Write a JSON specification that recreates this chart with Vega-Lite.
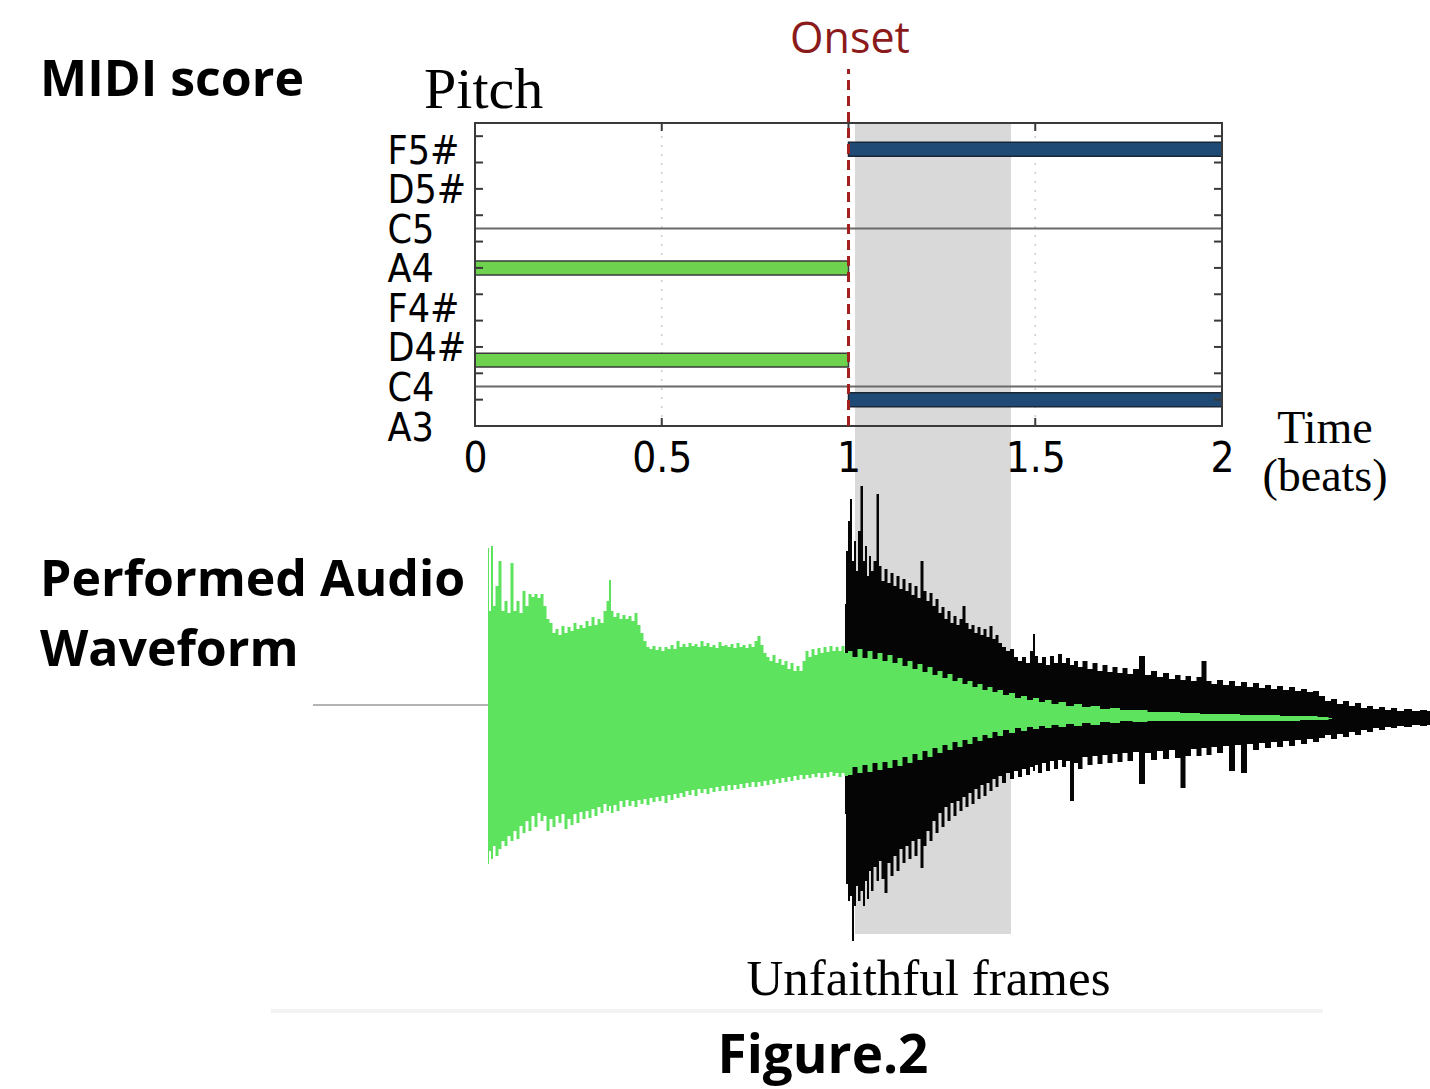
{
"$schema": "https://vega.github.io/schema/vega-lite/v6.json",
"width": 747, "height": 303, "padding": 0,
"autosize": {"type": "pad"},
"background": "white",
"config": {"view": {"stroke": null}},
"encoding": {
  "x": {"field": "t", "type": "quantitative", "scale": {"domain": [0, 2], "nice": false, "zero": false},
    "axis": {"values": [0, 0.5, 1, 1.5, 2], "labelExpr": "datum.value + ''", "title": null, "grid": false, "ticks": false, "domain": false, "zindex": 2,
      "labelFont": "DejaVu Sans Condensed", "labelFontSize": 42, "labelColor": "#000", "labelPadding": 12, "labelFlush": false, "labelOverlap": false}}
},
"layer": [
{
  "encoding": {"y": {"field": "p", "type": "quantitative", "scale": {"domain": [57, 80], "nice": false, "zero": false},
    "axis": {"values": [57, 60, 63, 66, 69, 72, 75, 78], "zindex": 2,
      "labelExpr": "datum.value == 57 ? 'A3' : datum.value == 60 ? 'C4' : datum.value == 63 ? 'D4#' : datum.value == 66 ? 'F4#' : datum.value == 69 ? 'A4' : datum.value == 72 ? 'C5' : datum.value == 75 ? 'D5#' : 'F5#'",
      "title": null, "grid": false, "ticks": false, "domain": false, "labelAlign": "left", "labelPadding": 88,
      "labelFont": "DejaVu Sans Condensed", "labelFontSize": 39, "labelColor": "#000", "labelOverlap": false, "labelFlush": false, "labelBaseline": "middle", "labelOffset": 2}}},
  "layer": [
    {"data": {"values": [{"t": -1.27175, "t2": 2.55689, "p": 89.261, "p2": 6.598}]},
     "mark": {"type": "rect", "fill": "white"}, "encoding": {"x2": {"field": "t2"}, "y2": {"field": "p2"}}},
    {"data": {"values": [{"t": 1.0174, "t2": 1.4351, "p": 80, "p2": 18.439}]},
     "mark": {"type": "rect", "fill": "#d9d9d9"}, "encoding": {"x2": {"field": "t2"}, "y2": {"field": "p2"}}},
    {"data": {"values": [{"t": 0.5, "p": 57, "p2": 80}, {"t": 1.5, "p": 57, "p2": 80}]},
     "mark": {"type": "rule", "color": "#cfcfcf", "strokeWidth": 1.5, "strokeDash": [2, 7]}, "encoding": {"y2": {"field": "p2"}}},
    {"data": {"values": [{"t": 0, "t2": 2, "p": 60}, {"t": 0, "t2": 2, "p": 72}]},
     "mark": {"type": "rule", "color": "#6a6a6a", "strokeWidth": 2}, "encoding": {"x2": {"field": "t2"}}},
    {"data": {"values": [{"note": "A4", "t": 0, "t2": 1, "p": 68.47, "p2": 69.53}, {"note": "D4", "t": 0, "t2": 1, "p": 61.47, "p2": 62.53}]},
     "mark": {"type": "rect", "fill": "#6fd24f", "stroke": "#3a3a3a", "strokeWidth": 1.5}, "encoding": {"x2": {"field": "t2"}, "y2": {"field": "p2"}}},
    {"data": {"values": [{"note": "F#5", "t": 1, "t2": 2, "p": 77.47, "p2": 78.53}, {"note": "B3", "t": 1, "t2": 2, "p": 58.47, "p2": 59.53}]},
     "mark": {"type": "rect", "fill": "#1f4a75", "stroke": "#1a2636", "strokeWidth": 1.5}, "encoding": {"x2": {"field": "t2"}, "y2": {"field": "p2"}}},
    {"data": {"values": [{"t": 0, "t2": 2, "p": 57, "p2": 80}]},
     "mark": {"type": "rect", "fill": null, "stroke": "#3a3a3a", "strokeWidth": 2}, "encoding": {"x2": {"field": "t2"}, "y2": {"field": "p2"}}},
    {"data": {"values": [{"t": 0, "p": 59}, {"t": 0, "p": 61}, {"t": 0, "p": 63}, {"t": 0, "p": 65}, {"t": 0, "p": 67}, {"t": 0, "p": 69}, {"t": 0, "p": 71}, {"t": 0, "p": 73}, {"t": 0, "p": 75}, {"t": 0, "p": 77}, {"t": 0, "p": 79}]},
     "mark": {"type": "tick", "orient": "horizontal", "size": 8, "thickness": 2, "xOffset": 4, "color": "#3a3a3a", "opacity": 1}},
    {"data": {"values": [{"t": 2, "p": 59}, {"t": 2, "p": 61}, {"t": 2, "p": 63}, {"t": 2, "p": 65}, {"t": 2, "p": 67}, {"t": 2, "p": 69}, {"t": 2, "p": 71}, {"t": 2, "p": 73}, {"t": 2, "p": 75}, {"t": 2, "p": 77}, {"t": 2, "p": 79}]},
     "mark": {"type": "tick", "orient": "horizontal", "size": 8, "thickness": 2, "xOffset": -4, "color": "#3a3a3a", "opacity": 1}},
    {"data": {"values": [{"t": 0.5, "p": 57}, {"t": 1, "p": 57}, {"t": 1.5, "p": 57}]},
     "mark": {"type": "tick", "orient": "vertical", "size": 8, "thickness": 2, "yOffset": -4, "color": "#3a3a3a", "opacity": 1}},
    {"data": {"values": [{"t": 0.5, "p": 80}, {"t": 1, "p": 80}, {"t": 1.5, "p": 80}]},
     "mark": {"type": "tick", "orient": "vertical", "size": 8, "thickness": 2, "yOffset": 4, "color": "#3a3a3a", "opacity": 1}},
    {"data": {"values": [{"t": 1, "p": 57, "p2": 84.1}]},
     "mark": {"type": "rule", "color": "#a41f1f", "strokeWidth": 3, "strokeDash": [10, 6]}, "encoding": {"y2": {"field": "p2"}}},
    {"data": {"values": [{"t": -0.5462, "t2": 2.2704, "p": 12.594}]},
     "mark": {"type": "rule", "color": "#f3f3f3", "strokeWidth": 4}, "encoding": {"x2": {"field": "t2"}}},
    {"data": {"values": [{"label": "MIDI score", "t": -1.1647, "p": 82.049}, {"label": "Performed Audio", "t": -1.1647, "p": 44.096}, {"label": "Waveform", "t": -1.1647, "p": 38.782}]},
     "mark": {"type": "text", "font": "Open Sans", "fontWeight": "bold", "fontSize": 50, "align": "left", "baseline": "alphabetic", "color": "#000"},
     "encoding": {"text": {"field": "label"}}},
    {"data": {"values": [{"label": "Figure.2", "t": 0.9317, "p": 7.888}]},
     "mark": {"type": "text", "font": "Open Sans", "fontWeight": "bold", "fontSize": 53, "align": "center", "baseline": "alphabetic", "color": "#000"},
     "encoding": {"text": {"field": "label"}}},
    {"data": {"values": [{"label": "Onset", "t": 1.004, "p": 85.313}]},
     "mark": {"type": "text", "font": "Open Sans", "fontSize": 43, "align": "center", "baseline": "alphabetic", "color": "#8b1a1a"},
     "encoding": {"text": {"field": "label"}}},
    {"data": {"values": [{"label": "Pitch", "t": -0.1365, "p": 81.138}]},
     "mark": {"type": "text", "font": "Liberation Serif", "fontSize": 58, "align": "left", "baseline": "alphabetic", "color": "#000"},
     "encoding": {"text": {"field": "label"}}},
    {"data": {"values": [{"label": "Time", "t": 2.2758, "p": 55.71}, {"label": "(beats)", "t": 2.2758, "p": 52.066}]},
     "mark": {"type": "text", "font": "Liberation Serif", "fontSize": 46, "align": "center", "baseline": "alphabetic", "color": "#000"},
     "encoding": {"text": {"field": "label"}}},
    {"data": {"values": [{"label": "Unfaithful frames", "t": 1.2142, "p": 13.809}]},
     "mark": {"type": "text", "font": "Liberation Serif", "fontSize": 51, "align": "center", "baseline": "alphabetic", "color": "#000"},
     "encoding": {"text": {"field": "label"}}}
  ]
},
{
  "encoding": {"y": {"field": "hi", "type": "quantitative", "scale": {"domain": [1.148, 2.36], "nice": false, "zero": false}, "axis": null}},
  "layer": [
    {"data": {"values": [{"t": -0.4337, "t2": 0.0348, "hi": 0.032}]},
     "mark": {"type": "rule", "color": "#b3b3b3", "strokeWidth": 2}, "encoding": {"x2": {"field": "t2"}}},
    {"data": {"values": [
{"t":0.9906,"hi":0.436,"lo":-0.404},{"t":0.9960,"hi":0.648,"lo":-0.684},{"t":1.0013,"hi":0.768,"lo":-0.752},{"t":1.0067,"hi":0.856,"lo":-0.732},{"t":1.0120,"hi":0.608,"lo":-0.912},{"t":1.0174,"hi":0.688,"lo":-0.772},{"t":1.0228,"hi":0.568,"lo":-0.692},{"t":1.0281,"hi":0.728,"lo":-0.752},{"t":1.0361,"hi":0.908,"lo":-0.712},{"t":1.0415,"hi":0.608,"lo":-0.772},{"t":1.0469,"hi":0.668,"lo":-0.672},{"t":1.0522,"hi":0.548,"lo":-0.744},{"t":1.0576,"hi":0.628,"lo":-0.632},{"t":1.0629,"hi":0.568,"lo":-0.712},{"t":1.0710,"hi":0.608,"lo":-0.616},{"t":1.0790,"hi":0.876,"lo":-0.672},{"t":1.0843,"hi":0.588,"lo":-0.592},{"t":1.0924,"hi":0.528,"lo":-0.664},{"t":1.1004,"hi":0.576,"lo":-0.720},{"t":1.1084,"hi":0.520,"lo":-0.600},{"t":1.1165,"hi":0.560,"lo":-0.652},{"t":1.1245,"hi":0.508,"lo":-0.572},{"t":1.1325,"hi":0.548,"lo":-0.632},{"t":1.1406,"hi":0.496,"lo":-0.544},{"t":1.1486,"hi":0.536,"lo":-0.600},{"t":1.1566,"hi":0.488,"lo":-0.532},{"t":1.1647,"hi":0.520,"lo":-0.584},{"t":1.1727,"hi":0.472,"lo":-0.512},{"t":1.1807,"hi":0.508,"lo":-0.572},{"t":1.1888,"hi":0.460,"lo":-0.504},{"t":1.1968,"hi":0.608,"lo":-0.620},{"t":1.2048,"hi":0.488,"lo":-0.532},{"t":1.2129,"hi":0.448,"lo":-0.472},{"t":1.2209,"hi":0.480,"lo":-0.512},{"t":1.2289,"hi":0.428,"lo":-0.432},{"t":1.2370,"hi":0.456,"lo":-0.480},{"t":1.2450,"hi":0.400,"lo":-0.400},{"t":1.2530,"hi":0.424,"lo":-0.456},{"t":1.2610,"hi":0.376,"lo":-0.376},{"t":1.2691,"hi":0.408,"lo":-0.432},{"t":1.2771,"hi":0.360,"lo":-0.360},{"t":1.2851,"hi":0.388,"lo":-0.412},{"t":1.2932,"hi":0.352,"lo":-0.352},{"t":1.3012,"hi":0.376,"lo":-0.392},{"t":1.3092,"hi":0.428,"lo":-0.336},{"t":1.3173,"hi":0.360,"lo":-0.376},{"t":1.3253,"hi":0.336,"lo":-0.320},{"t":1.3333,"hi":0.352,"lo":-0.364},{"t":1.3414,"hi":0.320,"lo":-0.304},{"t":1.3494,"hi":0.344,"lo":-0.344},{"t":1.3574,"hi":0.312,"lo":-0.288},{"t":1.3655,"hi":0.336,"lo":-0.332},{"t":1.3735,"hi":0.304,"lo":-0.280},{"t":1.3815,"hi":0.348,"lo":-0.312},{"t":1.3896,"hi":0.296,"lo":-0.264},{"t":1.3976,"hi":0.312,"lo":-0.296},{"t":1.4056,"hi":0.280,"lo":-0.252},{"t":1.4163,"hi":0.264,"lo":-0.280},{"t":1.4270,"hi":0.248,"lo":-0.240},{"t":1.4378,"hi":0.256,"lo":-0.264},{"t":1.4485,"hi":0.224,"lo":-0.232},{"t":1.4592,"hi":0.208,"lo":-0.256},{"t":1.4699,"hi":0.224,"lo":-0.224},{"t":1.4806,"hi":0.200,"lo":-0.248},{"t":1.4913,"hi":0.248,"lo":-0.216},{"t":1.4967,"hi":0.316,"lo":-0.232},{"t":1.5020,"hi":0.228,"lo":-0.208},{"t":1.5127,"hi":0.200,"lo":-0.240},{"t":1.5234,"hi":0.224,"lo":-0.200},{"t":1.5341,"hi":0.192,"lo":-0.232},{"t":1.5448,"hi":0.228,"lo":-0.192},{"t":1.5556,"hi":0.200,"lo":-0.224},{"t":1.5663,"hi":0.236,"lo":-0.188},{"t":1.5770,"hi":0.200,"lo":-0.216},{"t":1.5877,"hi":0.220,"lo":-0.192},{"t":1.5984,"hi":0.192,"lo":-0.352},{"t":1.6091,"hi":0.208,"lo":-0.200},{"t":1.6198,"hi":0.184,"lo":-0.224},{"t":1.6332,"hi":0.208,"lo":-0.176},{"t":1.6466,"hi":0.176,"lo":-0.208},{"t":1.6600,"hi":0.200,"lo":-0.172},{"t":1.6734,"hi":0.168,"lo":-0.204},{"t":1.6867,"hi":0.192,"lo":-0.168},{"t":1.7001,"hi":0.164,"lo":-0.200},{"t":1.7135,"hi":0.184,"lo":-0.164},{"t":1.7269,"hi":0.160,"lo":-0.196},{"t":1.7403,"hi":0.180,"lo":-0.160},{"t":1.7537,"hi":0.156,"lo":-0.192},{"t":1.7698,"hi":0.176,"lo":-0.156},{"t":1.7858,"hi":0.228,"lo":-0.284},{"t":1.8019,"hi":0.152,"lo":-0.160},{"t":1.8179,"hi":0.168,"lo":-0.188},{"t":1.8340,"hi":0.144,"lo":-0.152},{"t":1.8501,"hi":0.160,"lo":-0.184},{"t":1.8661,"hi":0.136,"lo":-0.148},{"t":1.8822,"hi":0.152,"lo":-0.180},{"t":1.8956,"hi":0.132,"lo":-0.300},{"t":1.9090,"hi":0.148,"lo":-0.172},{"t":1.9250,"hi":0.128,"lo":-0.144},{"t":1.9384,"hi":0.144,"lo":-0.172},{"t":1.9518,"hi":0.208,"lo":-0.140},{"t":1.9652,"hi":0.128,"lo":-0.168},{"t":1.9786,"hi":0.116,"lo":-0.136},{"t":1.9946,"hi":0.132,"lo":-0.160},{"t":2.0107,"hi":0.112,"lo":-0.132},{"t":2.0268,"hi":0.128,"lo":-0.232},{"t":2.0428,"hi":0.108,"lo":-0.128},{"t":2.0589,"hi":0.124,"lo":-0.240},{"t":2.0750,"hi":0.104,"lo":-0.124},{"t":2.0910,"hi":0.120,"lo":-0.148},{"t":2.1071,"hi":0.100,"lo":-0.120},{"t":2.1231,"hi":0.112,"lo":-0.140},{"t":2.1392,"hi":0.096,"lo":-0.116},{"t":2.1553,"hi":0.108,"lo":-0.136},{"t":2.1713,"hi":0.092,"lo":-0.112},{"t":2.1874,"hi":0.104,"lo":-0.132},{"t":2.2035,"hi":0.088,"lo":-0.108},{"t":2.2195,"hi":0.096,"lo":-0.124},{"t":2.2356,"hi":0.084,"lo":-0.104},{"t":2.2517,"hi":0.088,"lo":-0.116},{"t":2.2677,"hi":0.068,"lo":-0.100},{"t":2.2838,"hi":0.048,"lo":-0.088},{"t":2.2999,"hi":0.056,"lo":-0.104},{"t":2.3159,"hi":0.036,"lo":-0.084},{"t":2.3320,"hi":0.048,"lo":-0.096},{"t":2.3480,"hi":0.028,"lo":-0.076},{"t":2.3641,"hi":0.040,"lo":-0.088},{"t":2.3802,"hi":0.020,"lo":-0.068},{"t":2.3962,"hi":0.028,"lo":-0.076},{"t":2.4123,"hi":0.016,"lo":-0.060},{"t":2.4284,"hi":0.024,"lo":-0.068},{"t":2.4444,"hi":0.012,"lo":-0.056},{"t":2.4605,"hi":0.020,"lo":-0.060},{"t":2.4766,"hi":0.008,"lo":-0.052},{"t":2.4980,"hi":0.016,"lo":-0.056},{"t":2.5194,"hi":0.008,"lo":-0.048},{"t":2.5408,"hi":0.012,"lo":-0.052},{"t":2.5569,"hi":0.008,"lo":-0.048}
    ]},
     "mark": {"type": "area", "color": "#050505", "opacity": 1, "interpolate": "step"}, "encoding": {"y2": {"field": "lo"}}},
    {"data": {"values": [
{"t":0.0348,"hi":0.660,"lo":-0.604},{"t":0.0402,"hi":0.408,"lo":-0.552},{"t":0.0455,"hi":0.668,"lo":-0.584},{"t":0.0509,"hi":0.428,"lo":-0.532},{"t":0.0589,"hi":0.508,"lo":-0.572},{"t":0.0669,"hi":0.608,"lo":-0.544},{"t":0.0750,"hi":0.408,"lo":-0.512},{"t":0.0830,"hi":0.448,"lo":-0.532},{"t":0.0910,"hi":0.400,"lo":-0.492},{"t":0.0991,"hi":0.600,"lo":-0.512},{"t":0.1071,"hi":0.408,"lo":-0.472},{"t":0.1151,"hi":0.448,"lo":-0.504},{"t":0.1232,"hi":0.400,"lo":-0.452},{"t":0.1312,"hi":0.488,"lo":-0.480},{"t":0.1392,"hi":0.428,"lo":-0.432},{"t":0.1473,"hi":0.476,"lo":-0.472},{"t":0.1553,"hi":0.464,"lo":-0.412},{"t":0.1633,"hi":0.476,"lo":-0.456},{"t":0.1714,"hi":0.460,"lo":-0.400},{"t":0.1794,"hi":0.476,"lo":-0.432},{"t":0.1874,"hi":0.428,"lo":-0.412},{"t":0.1955,"hi":0.376,"lo":-0.472},{"t":0.2035,"hi":0.360,"lo":-0.424},{"t":0.2115,"hi":0.320,"lo":-0.456},{"t":0.2195,"hi":0.336,"lo":-0.412},{"t":0.2276,"hi":0.312,"lo":-0.440},{"t":0.2356,"hi":0.348,"lo":-0.404},{"t":0.2436,"hi":0.320,"lo":-0.464},{"t":0.2517,"hi":0.344,"lo":-0.424},{"t":0.2597,"hi":0.328,"lo":-0.448},{"t":0.2677,"hi":0.360,"lo":-0.404},{"t":0.2758,"hi":0.336,"lo":-0.440},{"t":0.2838,"hi":0.352,"lo":-0.396},{"t":0.2918,"hi":0.340,"lo":-0.424},{"t":0.2999,"hi":0.368,"lo":-0.392},{"t":0.3079,"hi":0.348,"lo":-0.420},{"t":0.3159,"hi":0.384,"lo":-0.384},{"t":0.3240,"hi":0.352,"lo":-0.412},{"t":0.3320,"hi":0.376,"lo":-0.376},{"t":0.3400,"hi":0.360,"lo":-0.400},{"t":0.3481,"hi":0.408,"lo":-0.364},{"t":0.3561,"hi":0.448,"lo":-0.392},{"t":0.3615,"hi":0.532,"lo":-0.372},{"t":0.3668,"hi":0.408,"lo":-0.400},{"t":0.3748,"hi":0.384,"lo":-0.368},{"t":0.3829,"hi":0.400,"lo":-0.392},{"t":0.3909,"hi":0.376,"lo":-0.352},{"t":0.3989,"hi":0.392,"lo":-0.376},{"t":0.4070,"hi":0.376,"lo":-0.348},{"t":0.4150,"hi":0.388,"lo":-0.372},{"t":0.4230,"hi":0.368,"lo":-0.352},{"t":0.4311,"hi":0.400,"lo":-0.376},{"t":0.4391,"hi":0.352,"lo":-0.348},{"t":0.4471,"hi":0.320,"lo":-0.364},{"t":0.4552,"hi":0.288,"lo":-0.344},{"t":0.4632,"hi":0.264,"lo":-0.368},{"t":0.4712,"hi":0.256,"lo":-0.340},{"t":0.4793,"hi":0.268,"lo":-0.356},{"t":0.4873,"hi":0.252,"lo":-0.336},{"t":0.4953,"hi":0.264,"lo":-0.352},{"t":0.5034,"hi":0.248,"lo":-0.332},{"t":0.5114,"hi":0.264,"lo":-0.360},{"t":0.5194,"hi":0.256,"lo":-0.328},{"t":0.5275,"hi":0.272,"lo":-0.348},{"t":0.5355,"hi":0.256,"lo":-0.324},{"t":0.5435,"hi":0.288,"lo":-0.340},{"t":0.5516,"hi":0.264,"lo":-0.320},{"t":0.5596,"hi":0.276,"lo":-0.336},{"t":0.5676,"hi":0.264,"lo":-0.312},{"t":0.5756,"hi":0.280,"lo":-0.328},{"t":0.5837,"hi":0.268,"lo":-0.308},{"t":0.5917,"hi":0.276,"lo":-0.332},{"t":0.5997,"hi":0.264,"lo":-0.304},{"t":0.6078,"hi":0.288,"lo":-0.320},{"t":0.6158,"hi":0.268,"lo":-0.304},{"t":0.6238,"hi":0.280,"lo":-0.324},{"t":0.6319,"hi":0.264,"lo":-0.300},{"t":0.6399,"hi":0.272,"lo":-0.316},{"t":0.6479,"hi":0.260,"lo":-0.296},{"t":0.6560,"hi":0.284,"lo":-0.312},{"t":0.6640,"hi":0.268,"lo":-0.292},{"t":0.6720,"hi":0.272,"lo":-0.312},{"t":0.6801,"hi":0.264,"lo":-0.288},{"t":0.6881,"hi":0.276,"lo":-0.308},{"t":0.6961,"hi":0.260,"lo":-0.288},{"t":0.7042,"hi":0.280,"lo":-0.304},{"t":0.7122,"hi":0.264,"lo":-0.284},{"t":0.7202,"hi":0.272,"lo":-0.300},{"t":0.7283,"hi":0.260,"lo":-0.280},{"t":0.7363,"hi":0.276,"lo":-0.296},{"t":0.7443,"hi":0.264,"lo":-0.276},{"t":0.7523,"hi":0.288,"lo":-0.296},{"t":0.7604,"hi":0.308,"lo":-0.276},{"t":0.7684,"hi":0.272,"lo":-0.292},{"t":0.7764,"hi":0.240,"lo":-0.272},{"t":0.7845,"hi":0.224,"lo":-0.288},{"t":0.7925,"hi":0.208,"lo":-0.268},{"t":0.8005,"hi":0.232,"lo":-0.284},{"t":0.8086,"hi":0.200,"lo":-0.264},{"t":0.8166,"hi":0.216,"lo":-0.280},{"t":0.8246,"hi":0.192,"lo":-0.260},{"t":0.8327,"hi":0.208,"lo":-0.276},{"t":0.8407,"hi":0.176,"lo":-0.256},{"t":0.8487,"hi":0.200,"lo":-0.272},{"t":0.8568,"hi":0.168,"lo":-0.252},{"t":0.8648,"hi":0.188,"lo":-0.268},{"t":0.8728,"hi":0.168,"lo":-0.248},{"t":0.8809,"hi":0.208,"lo":-0.264},{"t":0.8889,"hi":0.248,"lo":-0.248},{"t":0.8970,"hi":0.224,"lo":-0.260},{"t":0.9050,"hi":0.256,"lo":-0.244},{"t":0.9130,"hi":0.232,"lo":-0.256},{"t":0.9210,"hi":0.260,"lo":-0.240},{"t":0.9291,"hi":0.240,"lo":-0.260},{"t":0.9371,"hi":0.264,"lo":-0.240},{"t":0.9451,"hi":0.244,"lo":-0.256},{"t":0.9532,"hi":0.268,"lo":-0.236},{"t":0.9612,"hi":0.248,"lo":-0.252},{"t":0.9692,"hi":0.264,"lo":-0.240},{"t":0.9773,"hi":0.248,"lo":-0.256},{"t":0.9853,"hi":0.268,"lo":-0.240},{"t":0.9933,"hi":0.240,"lo":-0.252},
{"t":1.0040,"hi":0.248,"lo":-0.248},{"t":1.0174,"hi":0.224,"lo":-0.216},{"t":1.0308,"hi":0.256,"lo":-0.240},{"t":1.0442,"hi":0.220,"lo":-0.208},{"t":1.0576,"hi":0.248,"lo":-0.236},{"t":1.0710,"hi":0.216,"lo":-0.200},{"t":1.0843,"hi":0.240,"lo":-0.228},{"t":1.0977,"hi":0.208,"lo":-0.196},{"t":1.1111,"hi":0.232,"lo":-0.220},{"t":1.1245,"hi":0.200,"lo":-0.188},{"t":1.1379,"hi":0.220,"lo":-0.212},{"t":1.1513,"hi":0.188,"lo":-0.176},{"t":1.1647,"hi":0.208,"lo":-0.200},{"t":1.1781,"hi":0.176,"lo":-0.164},{"t":1.1914,"hi":0.196,"lo":-0.188},{"t":1.2048,"hi":0.164,"lo":-0.152},{"t":1.2182,"hi":0.184,"lo":-0.176},{"t":1.2316,"hi":0.152,"lo":-0.140},{"t":1.2450,"hi":0.168,"lo":-0.160},{"t":1.2584,"hi":0.140,"lo":-0.128},{"t":1.2718,"hi":0.156,"lo":-0.148},{"t":1.2851,"hi":0.128,"lo":-0.116},{"t":1.2985,"hi":0.140,"lo":-0.136},{"t":1.3119,"hi":0.116,"lo":-0.108},{"t":1.3253,"hi":0.128,"lo":-0.124},{"t":1.3387,"hi":0.104,"lo":-0.096},{"t":1.3521,"hi":0.116,"lo":-0.112},{"t":1.3655,"hi":0.092,"lo":-0.088},{"t":1.3788,"hi":0.104,"lo":-0.100},{"t":1.3922,"hi":0.084,"lo":-0.076},{"t":1.4056,"hi":0.092,"lo":-0.092},{"t":1.4217,"hi":0.072,"lo":-0.068},{"t":1.4378,"hi":0.080,"lo":-0.080},{"t":1.4538,"hi":0.060,"lo":-0.060},{"t":1.4699,"hi":0.068,"lo":-0.072},{"t":1.4859,"hi":0.052,"lo":-0.056},{"t":1.5020,"hi":0.060,"lo":-0.064},{"t":1.5181,"hi":0.044,"lo":-0.052},{"t":1.5341,"hi":0.052,"lo":-0.060},{"t":1.5529,"hi":0.036,"lo":-0.048},{"t":1.5716,"hi":0.044,"lo":-0.056},{"t":1.5930,"hi":0.028,"lo":-0.044},{"t":1.6145,"hi":0.036,"lo":-0.052},{"t":1.6359,"hi":0.024,"lo":-0.040},{"t":1.6600,"hi":0.028,"lo":-0.048},{"t":1.6867,"hi":0.016,"lo":-0.036},{"t":1.7135,"hi":0.020,"lo":-0.040},{"t":1.7403,"hi":0.012,"lo":-0.032},{"t":1.7805,"hi":0.012,"lo":-0.036},{"t":1.8206,"hi":0.004,"lo":-0.032},{"t":1.8608,"hi":0.004,"lo":-0.032},{"t":1.9143,"hi":0.000,"lo":-0.032},{"t":1.9679,"hi":-0.004,"lo":-0.032},{"t":2.0214,"hi":-0.004,"lo":-0.032},{"t":2.0750,"hi":-0.008,"lo":-0.032},{"t":2.1285,"hi":-0.008,"lo":-0.032},{"t":2.1821,"hi":-0.012,"lo":-0.032},{"t":2.2356,"hi":-0.012,"lo":-0.028},{"t":2.2758,"hi":-0.016,"lo":-0.028},{"t":2.2945,"hi":-0.020,"lo":-0.024}
    ]},
     "mark": {"type": "area", "color": "#5ee35e", "opacity": 1, "interpolate": "step"}, "encoding": {"y2": {"field": "lo"}}}
  ]
}
],
"resolve": {"scale": {"y": "independent"}}
}
